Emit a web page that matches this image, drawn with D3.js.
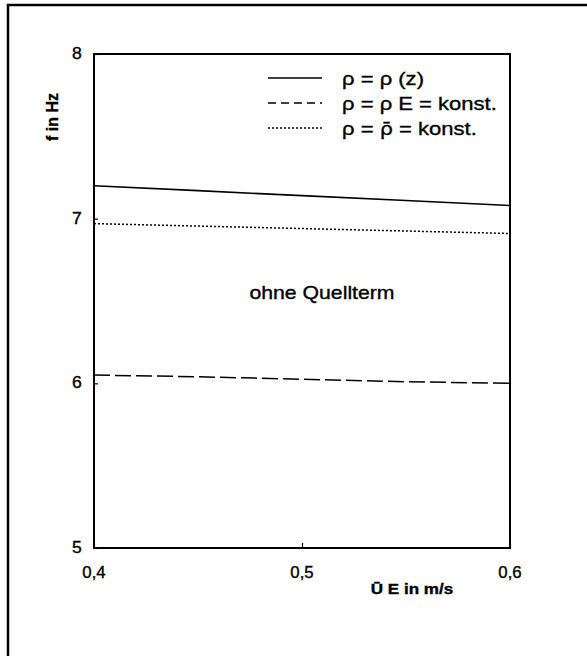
<!DOCTYPE html>
<html>
<head>
<meta charset="utf-8">
<script src="https://cdn.jsdelivr.net/npm/d3@7"></script>
<style>
  body { margin: 0; background: #fff; }
  text { font-family: "Liberation Sans", Arial, sans-serif; fill: #000; stroke: #000; stroke-width: 0.35; }
</style>
</head>
<body>
<svg id="chart"></svg>
<script>
// data
const uValues = [0.4, 0.45, 0.5, 0.55, 0.6];
const fRhoZ = [7.20, 7.17, 7.14, 7.11, 7.08];      // rho = rho(z)
const fRhoE = [6.05, 6.04, 6.025, 6.01, 6.00];     // rho = rho E = konst.
const fRhoMean = [6.97, 6.955, 6.94, 6.925, 6.91]; // rho = mean rho = konst.
const xTicks = [0.4, 0.5, 0.6];
const xTickLabels = ['0,4', '0,5', '0,6'];
const yTicks = [5, 6, 7, 8];
const legendLabels = [
  ['\u03C1 = \u03C1 (z)'],
  ['\u03C1 = \u03C1 E = konst.'],
  ['\u03C1 = ', '\u03C1\u0304', ' = konst.']
];
const annotation = 'ohne Quellterm';

const W = 587, H = 656;
const margin = { top: 54, right: 77, bottom: 108, left: 94 };
const width = W - margin.left - margin.right;
const height = H - margin.top - margin.bottom;

const svg = d3.select('#chart').attr('width', W).attr('height', H);

// outer frame (left and top only visible)
svg.append('path')
  .attr('d', `M8,${H} L8,5 L${W},5`)
  .attr('fill', 'none').attr('stroke', '#000').attr('stroke-width', 2.5);

const g = svg.append('g').attr('transform', `translate(${margin.left},${margin.top})`);

const x = d3.scaleLinear().domain([0.4, 0.6]).range([0, width]);
const y = d3.scaleLinear().domain([5, 8]).range([height, 0]);

function label(parent, px, py, txt, size, anchor, sx, weight) {
  return parent.append('text')
    .attr('transform', `translate(${px},${py}) scale(${sx},1)`)
    .attr('text-anchor', anchor)
    .attr('font-size', size)
    .attr('font-weight', weight || 'normal')
    .text(txt);
}

// ticks (inward)
g.append('g')
  .call(d3.axisLeft(y).tickValues(yTicks).tickSize(-4).tickFormat(''))
  .call(a => a.select('.domain').remove());
g.append('g')
  .attr('transform', `translate(0,${height})`)
  .call(d3.axisBottom(x).tickValues(xTicks).tickSize(-5).tickFormat(''))
  .call(a => a.select('.domain').remove());
g.selectAll('.tick line').attr('stroke', '#000').attr('stroke-width', 1.2);

// tick labels
yTicks.forEach(v => label(g, -17, y(v) + 5, String(v), 16, 'middle', 1.1));
xTicks.forEach((v, i) => label(g, x(v), height + 30, xTickLabels[i], 16, 'middle', 1.05));

// plot frame
g.append('rect')
  .attr('width', width).attr('height', height)
  .attr('fill', 'none').attr('stroke', '#000').attr('stroke-width', 2);

// curves
const line = d3.line().x((d, i) => x(uValues[i])).y(d => y(d));
const series = [
  { vals: fRhoZ, dash: null, w: 1.6 },
  { vals: fRhoE, dash: '16,5', w: 1.5 },
  { vals: fRhoMean, dash: '2,2', w: 1.5 }
];
series.forEach(s => {
  g.append('path')
    .attr('d', line(s.vals))
    .attr('fill', 'none').attr('stroke', '#000')
    .attr('stroke-width', s.w)
    .attr('stroke-dasharray', s.dash);
});

// legend
const legendDash = [null, '8,5', '2,2'];
legendLabels.forEach((parts, i) => {
  const ly = 78 + i * 25;
  svg.append('line')
    .attr('x1', 268).attr('x2', 322).attr('y1', ly).attr('y2', ly)
    .attr('stroke', '#000').attr('stroke-width', 1.4)
    .attr('stroke-dasharray', legendDash[i]);
  const t = label(svg, 342, ly + 7, '', 19, 'start', 1.16);
  parts.forEach(p => {
    const ts = t.append('tspan').text(p);
    if (p.includes('\u0304')) ts.attr('font-family', 'DejaVu Sans').attr('font-size', 18);
  });
});

// annotation
label(svg, 322, 299, annotation, 18, 'middle', 1.18);

// axis titles
label(svg, 412, 594, '\u016A E in m/s', 14, 'middle', 1.22, 'bold');
svg.append('text')
  .attr('transform', 'translate(58,117) rotate(-90)')
  .attr('text-anchor', 'middle')
  .attr('font-size', 16)
  .attr('font-weight', 'bold')
  .text('f in Hz');
</script>
</body>
</html>
